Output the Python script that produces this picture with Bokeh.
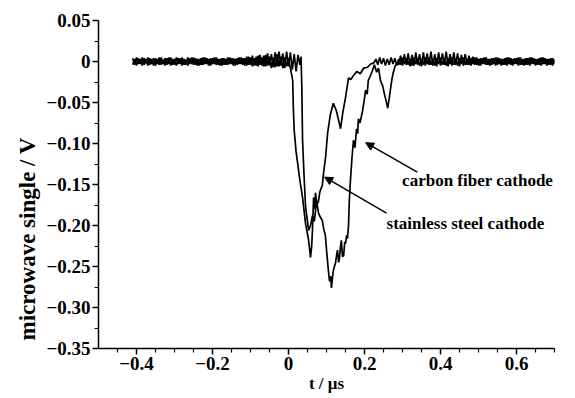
from bokeh.plotting import figure
from bokeh.models import (Range1d, FixedTicker, Arrow, NormalHead, Label, Title)
from bokeh.embed import file_html
from bokeh.resources import INLINE

# ---------------- data ----------------
# sampling times of the flat, noisy parts before and after the pulses
base_pre_t = [-0.410, -0.405, -0.400, -0.395, -0.390, -0.385, -0.380, -0.375, -0.370, -0.365,
              -0.360, -0.355, -0.350, -0.345, -0.340, -0.335, -0.330, -0.325, -0.320, -0.315,
              -0.310, -0.305, -0.300, -0.295, -0.290, -0.285, -0.280, -0.275, -0.270, -0.265,
              -0.260, -0.255, -0.250, -0.245, -0.240, -0.235, -0.230, -0.225, -0.220, -0.215,
              -0.210, -0.205, -0.200, -0.195, -0.190, -0.185, -0.180, -0.175, -0.170, -0.165,
              -0.160, -0.155, -0.150, -0.145, -0.140, -0.135, -0.130, -0.125, -0.120, -0.115,
              -0.110, -0.105, -0.100, -0.095, -0.090, -0.085, -0.080, -0.075, -0.070, -0.065,
              -0.060, -0.055, -0.050, -0.045, -0.040, -0.035, -0.030, -0.025, -0.020, -0.015,
              -0.010, -0.005, 0.000, 0.005, 0.010, 0.015, 0.020, 0.025]
base_post_t = [0.230, 0.235, 0.240, 0.245, 0.250, 0.255, 0.260, 0.265, 0.270, 0.275,
               0.280, 0.285, 0.290, 0.295, 0.300, 0.305, 0.310, 0.315, 0.320, 0.325,
               0.330, 0.335, 0.340, 0.345, 0.350, 0.355, 0.360, 0.365, 0.370, 0.375,
               0.380, 0.385, 0.390, 0.395, 0.400, 0.405, 0.410, 0.415, 0.420, 0.425,
               0.430, 0.435, 0.440, 0.445, 0.450, 0.455, 0.460, 0.465, 0.470, 0.475,
               0.480, 0.485, 0.490, 0.495, 0.500, 0.505, 0.510, 0.515, 0.520, 0.525,
               0.530, 0.535, 0.540, 0.545, 0.550, 0.555, 0.560, 0.565, 0.570, 0.575,
               0.580, 0.585, 0.590, 0.595, 0.600, 0.605, 0.610, 0.615, 0.620, 0.625,
               0.630, 0.635, 0.640, 0.645, 0.650, 0.655, 0.660, 0.665, 0.670, 0.675,
               0.680, 0.685, 0.690, 0.695, 0.700, 0.705]

# stainless steel cathode
ss_pre_v = [0.004, -0.004, 0.005, -0.003, 0.003, -0.005, 0.004, -0.002, 0.005, -0.004,
            0.003, -0.005, 0.004, -0.003, 0.005, -0.004, 0.002, -0.005, 0.004, -0.003,
            0.005, -0.004, 0.003, -0.005, 0.004, -0.003, 0.005, -0.004, 0.002, -0.005,
            0.004, -0.003, 0.005, -0.004, 0.003, -0.005, 0.004, -0.004, 0.005, -0.003,
            0.003, -0.005, 0.004, -0.003, 0.005, -0.004, 0.003, -0.005, 0.004, -0.004,
            0.005, -0.003, 0.004, -0.005, 0.003, -0.004, 0.005, -0.003, 0.004, -0.005,
            0.006, -0.004, 0.005, -0.006, 0.004, -0.005, 0.007, -0.004, 0.005, -0.006,
            0.008, -0.005, 0.006, -0.008, 0.005, -0.007, 0.009, -0.006, 0.006, -0.008,
            0.005, -0.006, 0.004]
ss_pulse_t = [0.005, 0.011, 0.013, 0.015, 0.020, 0.024, 0.030, 0.037, 0.045, 0.053,
              0.058, 0.061, 0.063, 0.066, 0.069, 0.071, 0.075, 0.079, 0.082, 0.084,
              0.089, 0.092, 0.098, 0.103, 0.110, 0.118, 0.126, 0.132, 0.137, 0.143,
              0.150, 0.158, 0.164, 0.171, 0.180, 0.189, 0.198, 0.208, 0.216, 0.224]
ss_pulse_v = [-0.008, -0.023, -0.060, -0.084, -0.110, -0.124, -0.145, -0.166, -0.198, -0.218,
              -0.239, -0.225, -0.206, -0.166, -0.180, -0.160, -0.175, -0.170, -0.160, -0.157,
              -0.151, -0.137, -0.115, -0.087, -0.065, -0.051, -0.060, -0.072, -0.082, -0.062,
              -0.044, -0.020, -0.022, -0.017, -0.012, -0.015, -0.008, -0.007, -0.003, -0.002]
ss_post_v = [0.003, -0.004, 0.005, -0.003, 0.004, -0.005, 0.003, -0.004, 0.005, -0.003,
             0.004, -0.005, 0.003, -0.004, 0.005, -0.003, 0.004, -0.004, 0.003, -0.005,
             0.005, -0.003, 0.004, -0.005, 0.003, -0.004, 0.005, -0.003, 0.004, -0.004,
             0.003, -0.005, 0.004, -0.003, 0.005, -0.004, 0.003, -0.005, 0.004, -0.003,
             0.005, -0.004, 0.003, -0.005, 0.004, -0.003, 0.005, -0.004, 0.003, -0.004,
             0.004, -0.003, 0.005, -0.004, 0.003, -0.005, 0.004, -0.003, 0.005, -0.004,
             0.003, -0.004, 0.004, -0.005, 0.005, -0.003, 0.003, -0.004, 0.004, -0.005,
             0.005, -0.004, 0.003, -0.003, 0.004, -0.005, 0.005, -0.004, 0.003, -0.004,
             0.004, -0.005, 0.005, -0.003, 0.003, -0.004, 0.004, -0.005, 0.005, -0.003,
             0.003, -0.004, 0.004, -0.005, 0.003]

# carbon fiber cathode
cf_pre_v = [-0.004, 0.003, -0.005, 0.004, -0.003, 0.005, -0.004, 0.003, -0.005, 0.004,
            -0.003, 0.004, -0.005, 0.003, -0.004, 0.005, -0.003, 0.004, -0.004, 0.005,
            -0.005, 0.003, -0.004, 0.005, -0.003, 0.004, -0.005, 0.003, -0.004, 0.005,
            -0.003, 0.005, -0.004, 0.004, -0.005, 0.003, -0.004, 0.005, -0.003, 0.004,
            -0.005, 0.004, -0.003, 0.005, -0.004, 0.003, -0.005, 0.004, -0.004, 0.003,
            -0.004, 0.005, -0.003, 0.004, -0.005, 0.004, -0.003, 0.005, -0.004, 0.004,
            -0.005, 0.006, -0.004, 0.007, -0.005, 0.006, -0.006, 0.008, -0.005, 0.007,
            -0.006, 0.010, -0.005, 0.009, -0.007, 0.011, -0.006, 0.012, -0.005, 0.010,
            -0.008, 0.012, -0.006, 0.011, -0.010, 0.009, -0.012, 0.008]
cf_pulse_t = [0.030, 0.033, 0.035, 0.037, 0.041, 0.045, 0.050, 0.053, 0.058, 0.063,
              0.068, 0.074, 0.079, 0.084, 0.089, 0.093, 0.097, 0.101, 0.105, 0.108,
              0.111, 0.113, 0.116, 0.118, 0.121, 0.124, 0.127, 0.129, 0.132, 0.134,
              0.137, 0.139, 0.142, 0.145, 0.148, 0.150, 0.153, 0.155, 0.158, 0.160,
              0.163, 0.167, 0.171, 0.175, 0.179, 0.182, 0.184, 0.188, 0.195, 0.199,
              0.203, 0.207, 0.210, 0.215, 0.221, 0.226, 0.232, 0.237, 0.242, 0.248,
              0.253, 0.258, 0.261, 0.265, 0.268, 0.272, 0.276, 0.281, 0.287]
cf_pulse_v = [-0.004, 0.006, -0.030, -0.096, -0.140, -0.178, -0.195, -0.206, -0.200, -0.188,
              -0.195, -0.170, -0.185, -0.190, -0.194, -0.205, -0.212, -0.235, -0.255, -0.268,
              -0.262, -0.276, -0.262, -0.255, -0.250, -0.245, -0.235, -0.230, -0.245, -0.240,
              -0.225, -0.218, -0.238, -0.237, -0.220, -0.222, -0.212, -0.216, -0.200, -0.170,
              -0.145, -0.118, -0.096, -0.105, -0.082, -0.088, -0.070, -0.075, -0.060, -0.048,
              -0.035, -0.040, -0.023, -0.018, -0.011, -0.004, -0.013, -0.008, -0.023, -0.030,
              -0.041, -0.050, -0.057, -0.045, -0.035, -0.022, -0.013, -0.005, -0.002]
cf_post_v = [-0.004, 0.007, -0.005, 0.009, -0.004, 0.010, -0.006, 0.008, -0.005, 0.011,
             -0.004, 0.009, -0.006, 0.011, -0.005, 0.010, -0.004, 0.012, -0.005, 0.009,
             -0.006, 0.011, -0.005, 0.010, -0.004, 0.012, -0.006, 0.009, -0.005, 0.011,
             -0.004, 0.010, -0.006, 0.008, -0.005, 0.009, -0.004, 0.007, -0.005, 0.006,
             -0.004, 0.005, -0.005, 0.004, -0.003, 0.005, -0.004, 0.003, -0.005, 0.004,
             -0.003, 0.005, -0.004, 0.004, -0.005, 0.003, -0.004, 0.005, -0.003, 0.004,
             -0.005, 0.004, -0.003, 0.005, -0.004, 0.003, -0.005, 0.004, -0.004, 0.005,
             -0.003, 0.004, -0.005, 0.003, -0.004, 0.005, -0.003, 0.004, -0.005, 0.003,
             -0.004, 0.004, -0.003, 0.003]

x_ticks = [-0.4, -0.2, 0.0, 0.2, 0.4, 0.6]
x_tick_labels = ["\u22120.4", "\u22120.2", "0", "0.2", "0.4", "0.6"]
y_ticks = [0.05, 0.0, -0.05, -0.10, -0.15, -0.20, -0.25, -0.30, -0.35]
y_tick_labels = ["0.05", "0", "\u22120.05", "\u22120.10", "\u22120.15", "\u22120.20",
                 "\u22120.25", "\u22120.30", "\u22120.35"]
x_minor = [-0.45, -0.35, -0.3, -0.25, -0.15, -0.1, -0.05, 0.05, 0.1, 0.15,
           0.25, 0.3, 0.35, 0.45, 0.5, 0.55, 0.65, 0.7]
y_minor = [0.025, -0.025, -0.075, -0.125, -0.175, -0.225, -0.275, -0.325]

x_title = "t / \u03bcs"
y_title = "microwave single / V"
labels = ["carbon fiber cathode", "stainless steel cathode"]
label_pos = [(0.299, -0.145), (0.258, -0.198)]
arrow_tail = [(0.339, -0.135), (0.258, -0.185)]
arrow_head = [(0.203, -0.099), (0.095, -0.141)]

# ---------------- figure ----------------
FONT = "Liberation Serif"
p = figure(width=575, height=398, output_backend="svg", toolbar_location=None,
           x_range=Range1d(-0.5, 0.7), y_range=Range1d(-0.35, 0.05),
           min_border_left=98, min_border_right=21, min_border_top=20,
           min_border_bottom=50)
p.outline_line_color = None
p.grid.visible = False
p.background_fill_color = "white"

ss_t = base_pre_t[:83] + ss_pulse_t + base_post_t[:95]
ss_v = ss_pre_v + ss_pulse_v + ss_post_v
cf_t = base_pre_t + cf_pulse_t + base_post_t[12:]
cf_v = cf_pre_v + cf_pulse_v + cf_post_v
p.line(cf_t, cf_v, line_color="black", line_width=1.7)
p.line(ss_t, ss_v, line_color="black", line_width=1.7)

for ax, ticks, tl, minor in ((p.xaxis[0], x_ticks, x_tick_labels, x_minor),
                             (p.yaxis[0], y_ticks, y_tick_labels, y_minor)):
    ax.ticker = FixedTicker(ticks=ticks, minor_ticks=minor)
    ax.major_label_overrides = dict(zip(ticks, tl))
    ax.axis_line_color = "black"
    ax.axis_line_width = 1.5
    ax.major_tick_line_width = 1.5
    ax.minor_tick_line_width = 1.2
    ax.major_tick_in = 0
    ax.major_tick_out = 6
    ax.minor_tick_in = 0
    ax.minor_tick_out = 4
    ax.major_label_text_font = FONT
    ax.major_label_text_font_style = "bold"
    ax.major_label_text_font_size = "19px"
    ax.major_label_text_color = "black"
    ax.major_label_standoff = 2

p.xaxis[0].axis_label = x_title
p.xaxis[0].axis_label_text_font = FONT
p.xaxis[0].axis_label_text_font_style = "bold"
p.xaxis[0].axis_label_text_font_size = "17px"
p.xaxis[0].axis_label_text_color = "black"
p.xaxis[0].axis_label_standoff = 1

ytitle = Title(text=y_title, align="left", offset=8,
               text_font=FONT, text_font_style="bold", text_font_size="23px",
               text_color="black", standoff=8)
p.add_layout(ytitle, "left")

for txt, (lx, ly), (tx, ty), (hx, hy) in zip(labels, label_pos, arrow_tail, arrow_head):
    p.add_layout(Label(x=lx, y=ly, text=txt, text_font=FONT, text_font_style="bold",
                       text_font_size="17px", text_baseline="middle", text_align="left",
                       text_color="black"))
    p.add_layout(Arrow(x_start=tx, y_start=ty, x_end=hx, y_end=hy, line_width=1.5,
                       line_color="black",
                       end=NormalHead(size=8, fill_color="black", line_color="black")))

open("out.html", "w").write(file_html(p, INLINE))
